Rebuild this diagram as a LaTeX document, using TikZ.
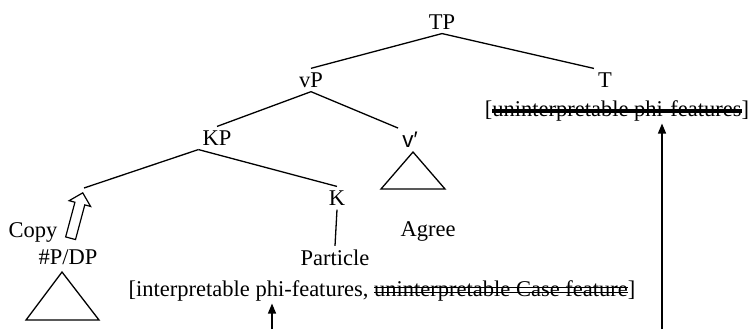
\documentclass[tikz,border=0pt]{standalone}
\usepackage{fontspec}
\setmainfont{Liberation Serif}
\newfontfamily\sansf{Liberation Sans}
\usepackage{tikz}
\usetikzlibrary{shapes,arrows.meta,positioning,calc}

\newlength\strklen
\newcommand{\dstrk}[1]{\settowidth{\strklen}{#1}\rlap{\rule[0.17em]{\strklen}{0.05em}}\rlap{\rule[0.36em]{\strklen}{0.05em}}#1}
\newcommand{\tstrk}[1]{\settowidth{\strklen}{#1}\rlap{\rule[0.15em]{\strklen}{0.17em}}#1}

\begin{document}
\begin{tikzpicture}[x=1pt,y=-1pt,
    every node/.style={font=\fontsize{22.5}{27}\selectfont},
    cat/.style={inner sep=4pt},
    branch/.style={line width=1.3pt},
    roof/.style={line width=1.3pt, line join=miter},
    check/.style={line width=1.3pt, -{Triangle[length=10pt,width=8pt]}},
    copyarrow/.style={single arrow, draw, line width=1.2pt, inner xsep=0pt, inner ysep=4.5pt,
        single arrow head extend=6pt, minimum height=47pt, text height=0pt, text depth=0pt}]
    \useasboundingbox (0,0) rectangle (751,329);
    % tree
    \node[cat] (TP) at (442,22) {TP};
    \node[cat] (vP) at (311,80) {vP};
    \node[cat] (T) at (605,80) {T};
    \node[inner sep=2pt] (Tfeat) at (617,111) {[\tstrk{uninterpretable phi-features}]};
    \node[cat] (KP) at (217,138) {KP};
    \node[cat] (vbar) at (410,140) {{\sansf v′}};
    \coordinate (spec) at (84,188);
    \node[cat] (K) at (337,198) {K};
    \node[cat] (Particle) at (335,258) {Particle};
    \node[inner sep=2pt] (Kfeat) at (382,291) {[interpretable phi-features, \dstrk{uninterpretable Case feature}]};
    \node (Agree) at (428,231) {Agree};
    \node (Copy) at (33,232) {Copy};
    \node (DP) at (68,257) {\#P/DP};

    \draw[branch] (TP.south) -- (vP.north);
    \draw[branch] (TP.south) -- (T.north west);
    \draw[branch] (vP.south) -- (KP.north);
    \draw[branch] (vP.south) -- (vbar.north west);
    \draw[branch] (KP.south west) -- (spec);
    \draw[branch] (KP.south west) -- (K.north);
    \draw[branch] (K.south) -- (Particle.north);

    % triangles
    \draw[roof] (413,152) -- (381,189) -- (445,189) -- cycle;
    \draw[roof] (62,272) -- (26,320) -- (99,320) -- cycle;

    % copy
    \node[copyarrow, rotate=75] (copy) at (76,218) {};

    % agree arrows
    \coordinate (b1) at (272,329);
    \coordinate (b2) at (662,329);
    \draw[check] (b1) -- (b1 |- Kfeat.south);
    \draw[check] (b2) -- (b2 |- Tfeat.south);
\end{tikzpicture}
\end{document}
